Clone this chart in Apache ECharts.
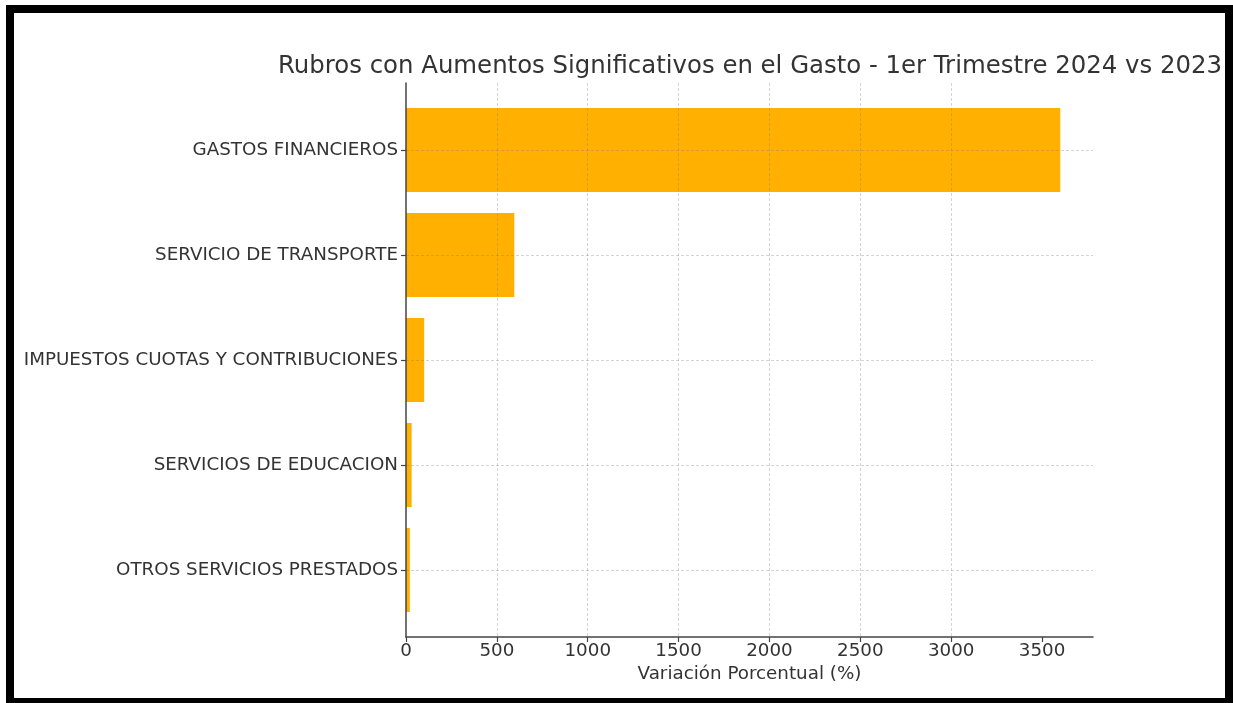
<!DOCTYPE html>
<html>
<head>
<meta charset="utf-8">
<script src="https://cdn.jsdelivr.net/npm/echarts@6/dist/echarts.min.js"></script>
<style>
  html, body { margin: 0; padding: 0; background: #fff; }
  #chart { position: absolute; left: 0; top: 0; width: 1233px; height: 703px; }
  #frame { position: absolute; left: 6px; top: 5px; width: 1227px; height: 698px; box-sizing: border-box;
           border-top: 8px solid #000; border-left: 8px solid #000; border-right: 8px solid #000; border-bottom: 5px solid #000;
           pointer-events: none; }
</style>
</head>
<body>
<div id="chart"></div>
<div id="frame"></div>
<script>
const titleText = 'Rubros con Aumentos Significativos en el Gasto - 1er Trimestre 2024 vs 2023';
const xAxisName = 'Variación Porcentual (%)';
const categories = ['GASTOS FINANCIEROS', 'SERVICIO DE TRANSPORTE', 'IMPUESTOS CUOTAS Y CONTRIBUCIONES', 'SERVICIOS DE EDUCACION', 'OTROS SERVICIOS PRESTADOS'];
const values = [3600, 596, 100, 31, 21];
const xTicks = [0, 500, 1000, 1500, 2000, 2500, 3000, 3500];
const xMin = 0, xMax = 3780;

const font = 'DejaVu Sans';
const textColor = '#333';
const axisColor = '#444';
const gridColor = 'rgba(120,120,120,0.32)';

const chart = echarts.init(document.getElementById('chart'), null, { renderer: 'canvas' });
chart.setOption({
  animation: false,
  backgroundColor: 'transparent',
  title: {
    text: titleText, left: 745, top: 50, textAlign: 'center',
    textStyle: { fontFamily: font, fontSize: 24.4, fontWeight: 'normal', color: textColor }
  },
  grid: [
    { left: 406, top: 97.5, width: 687, height: 525, containLabel: false },
    { left: 406, top: 83, width: 687, height: 554, containLabel: false }
  ],
  xAxis: [
    { type: 'value', gridIndex: 0, min: xMin, max: xMax, show: false },
    { type: 'value', gridIndex: 1, min: xMin, max: xMax, interval: 500, z: 5,
      name: xAxisName, nameLocation: 'middle', nameGap: 25,
      nameTextStyle: { fontFamily: font, fontSize: 18.3, color: textColor },
      axisLine: { show: true, lineStyle: { color: axisColor, width: 1.5 } },
      axisTick: { show: true, inside: false, length: 5, customValues: xTicks, lineStyle: { color: axisColor, width: 1.2 } },
      axisLabel: { show: true, customValues: xTicks, margin: 5, fontFamily: font, fontSize: 18.3, color: textColor,
                   formatter: v => String(v) },
      splitLine: { show: true, showMinLine: false, showMaxLine: false, lineStyle: { color: gridColor, type: [3, 2], width: 1 } }
    }
  ],
  yAxis: [
    { type: 'category', gridIndex: 0, data: categories, inverse: true,
      axisLine: { show: false },
      axisTick: { show: true, alignWithLabel: true, length: 5, lineStyle: { color: axisColor, width: 1.2 } },
      axisLabel: { show: true, margin: 8, fontFamily: font, fontSize: 18.3, color: textColor },
      splitLine: { show: false }
    },
    { type: 'value', gridIndex: 1, min: 0, max: 1, z: 5,
      axisLine: { show: true, lineStyle: { color: axisColor, width: 1.5 } },
      axisTick: { show: false }, axisLabel: { show: false }, splitLine: { show: false }
    }
  ],
  series: [{
    type: 'bar', xAxisIndex: 0, yAxisIndex: 0, data: values, barWidth: '80%',
    itemStyle: { color: '#FFB000' },
    markLine: {
      silent: true, symbol: 'none', label: { show: false },
      lineStyle: { color: gridColor, type: [3, 2], width: 1 },
      data: categories.map(c => ({ yAxis: c }))
    }
  }]
});
</script>
</body>
</html>
